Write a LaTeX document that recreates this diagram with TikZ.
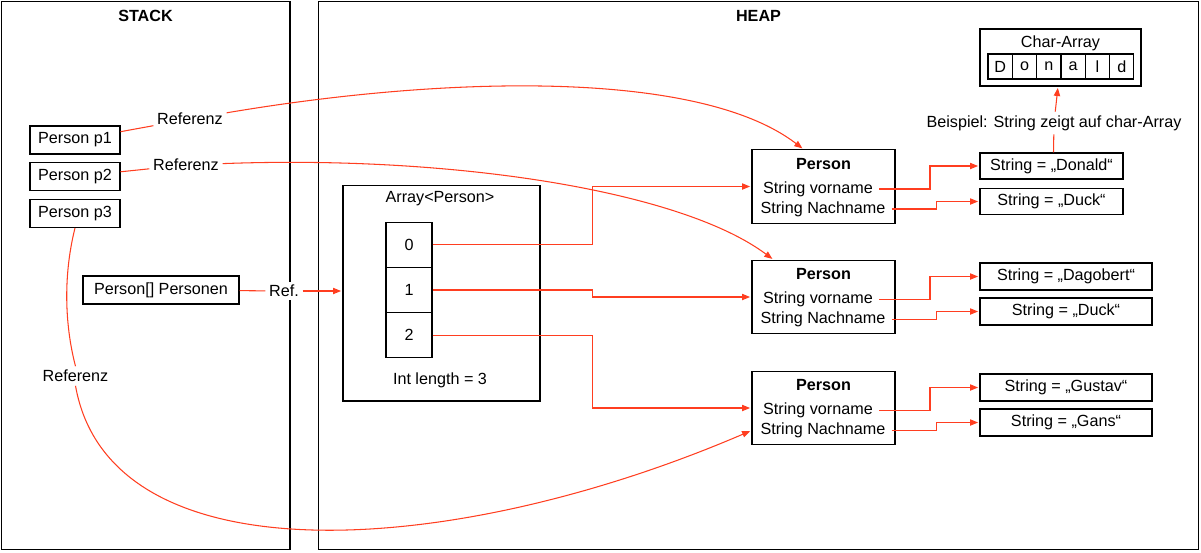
\documentclass[tikz,border=0pt]{standalone}
\usepackage{fontspec}
\setmainfont{Liberation Sans}
\usepackage{tikz}
\usetikzlibrary{arrows.meta, positioning}
\definecolor{refred}{RGB}{255,62,32}
\tikzstyle{area} = [rectangle, draw=black, line width=0.6pt, inner sep=0pt]
\tikzstyle{box} = [rectangle, draw=black, line width=0.6pt, inner sep=0pt, minimum height=0.56cm, text centered]
\tikzstyle{cell} = [rectangle, draw=black, line width=0.6pt, inner sep=0pt, text centered]
\tikzstyle{reflabel} = [fill=white, inner sep=2pt]
\tikzstyle{link} = [draw=refred, line width=0.6pt]
\tikzstyle{arrow} = [draw=refred, line width=0.6pt, -{Triangle[length=4.6pt,width=3.6pt]}, shorten >=0.8pt, refred]

\begin{document}
\begin{tikzpicture}[x=0.02cm, y=-0.02cm, every node/.style={font=\fontsize{9.2}{11}\selectfont}]
	\useasboundingbox (0,0) rectangle (1201,552);
	
	% Areas
	\node (stack) [area, minimum width=5.78cm, minimum height=10.98cm] at (145.5,275.5) {};
	\node (heap) [area, minimum width=17.62cm, minimum height=10.98cm] at (758.5,275.5) {};
	\node at (145.5,16) {\bfseries STACK};
	\node at (758.5,16) {\bfseries HEAP};
	
	% Stack
	\node (p1) [box, minimum width=1.8cm] at (75,140) {Person p1};
	\node (p2) [box, minimum width=1.8cm] at (75,176.5) {Person p2};
	\node (p3) [box, minimum width=1.8cm] at (75,213.5) {Person p3};
	\node (personen) [box, minimum width=3.12cm] at (161,290) {Person[] Personen};
	
	% Array
	\node (arr) [area, minimum width=3.94cm, minimum height=4.32cm] at (441.5,293) {};
	\node at (440,199) {Array<Person>};
	\node at (440,380) {Int length = 3};
	\foreach \i in {0,1,2}
		\node (cell\i) [cell, minimum width=0.92cm, minimum height=0.906cm] at (409,244.7+45.3*\i) {\i};
	
	% Persons
	\foreach \n/\y in {1/186.5, 2/297, 3/408} {
		\node (pers\n) [area, minimum width=2.86cm, minimum height=1.47cm] at (823.5,\y) {};
		\node at (823.5,\y-22.5) {\bfseries Person};
		\node (vor\n) at (818,\y+2.5) {String vorname};
		\node (nach\n) at (823,\y+22.5) {String Nachname};
	}
	
	% Strings
	\node (str1) [box, minimum width=2.86cm, minimum height=0.52cm] at (1051.5,166) {String = „Donald“};
	\node (str2) [box, minimum width=2.86cm, minimum height=0.52cm] at (1051.5,201.5) {String = „Duck“};
	\node (str3) [box, minimum width=3.44cm, minimum height=0.54cm] at (1066,276.5) {String = „Dagobert“};
	\node (str4) [box, minimum width=3.44cm, minimum height=0.54cm] at (1066,311.5) {String = „Duck“};
	\node (str5) [box, minimum width=3.44cm, minimum height=0.54cm] at (1066,387.5) {String = „Gustav“};
	\node (str6) [box, minimum width=3.44cm, minimum height=0.54cm] at (1066,422.5) {String = „Gans“};
	
	% Char-Array
	\node (chars) [area, minimum width=3.22cm, minimum height=1.14cm] at (1060.5,57.5) {};
	\node at (1060.5,43) {Char-Array};
	\foreach \c [count=\i] in {D,o,n,a,l,d}
		\node (chr\i) [cell, minimum width=0.486cm, minimum height=0.5cm] at (988+24.33*\i-12.17,66.5) {\c};
	
	% Labels
	\node (refA) [reflabel] at (190,119) {Referenz};
	\node (refB) [reflabel] at (186,165) {Referenz};
	\node (refC) [reflabel] at (75.5,376) {Referenz};
	\node (refD) [reflabel] at (284,291) {Ref.};
	\node (beisp) [reflabel] at (1054,123) {Beispiel: String zeigt auf char-Array};
	
	% Arrows
	\draw [link] (p1) -- (refA);
	\draw [arrow] (refA) .. controls (450,75) and (700,70) .. ([xshift=-0.4cm]pers1.north);
	\draw [link] (p2) -- (refB);
	\draw [arrow] (refB) .. controls (450,155) and (680,190) .. ([xshift=-1cm]pers2.north);
	\draw [link] (p3.south) .. controls (62,280) and (66,330) .. (refC.north);
	\draw [arrow] (refC.south) .. controls (110,580) and (450,560) .. (pers3.west |- nach3);
	\draw [link] (personen) -- (refD);
	\draw [arrow] (refD) -- (refD -| arr.west);
	
	\draw [arrow] (cell0.east) -- ++(160,0) |- (pers1.west);
	\draw [arrow] (cell1.east) -- ++(160,0) |- (pers2.west);
	\draw [arrow] (cell2.east) -- ++(160,0) |- (pers3.west);
	
	\foreach \n/\a/\b in {1/1/2, 2/3/4, 3/5/6} {
		\draw [arrow] (vor\n.east) -- ++(51,0) |- (str\a.west);
		\draw [arrow] (nach\n.east) -- ++(45,0) |- (str\b.west);
	}
	
	\draw [link] ([xshift=0.04cm]str1.north) -- (beisp);
	\draw [arrow] (beisp) -- ([xshift=-0.05cm]chars.south);
	
\end{tikzpicture}
\end{document}
